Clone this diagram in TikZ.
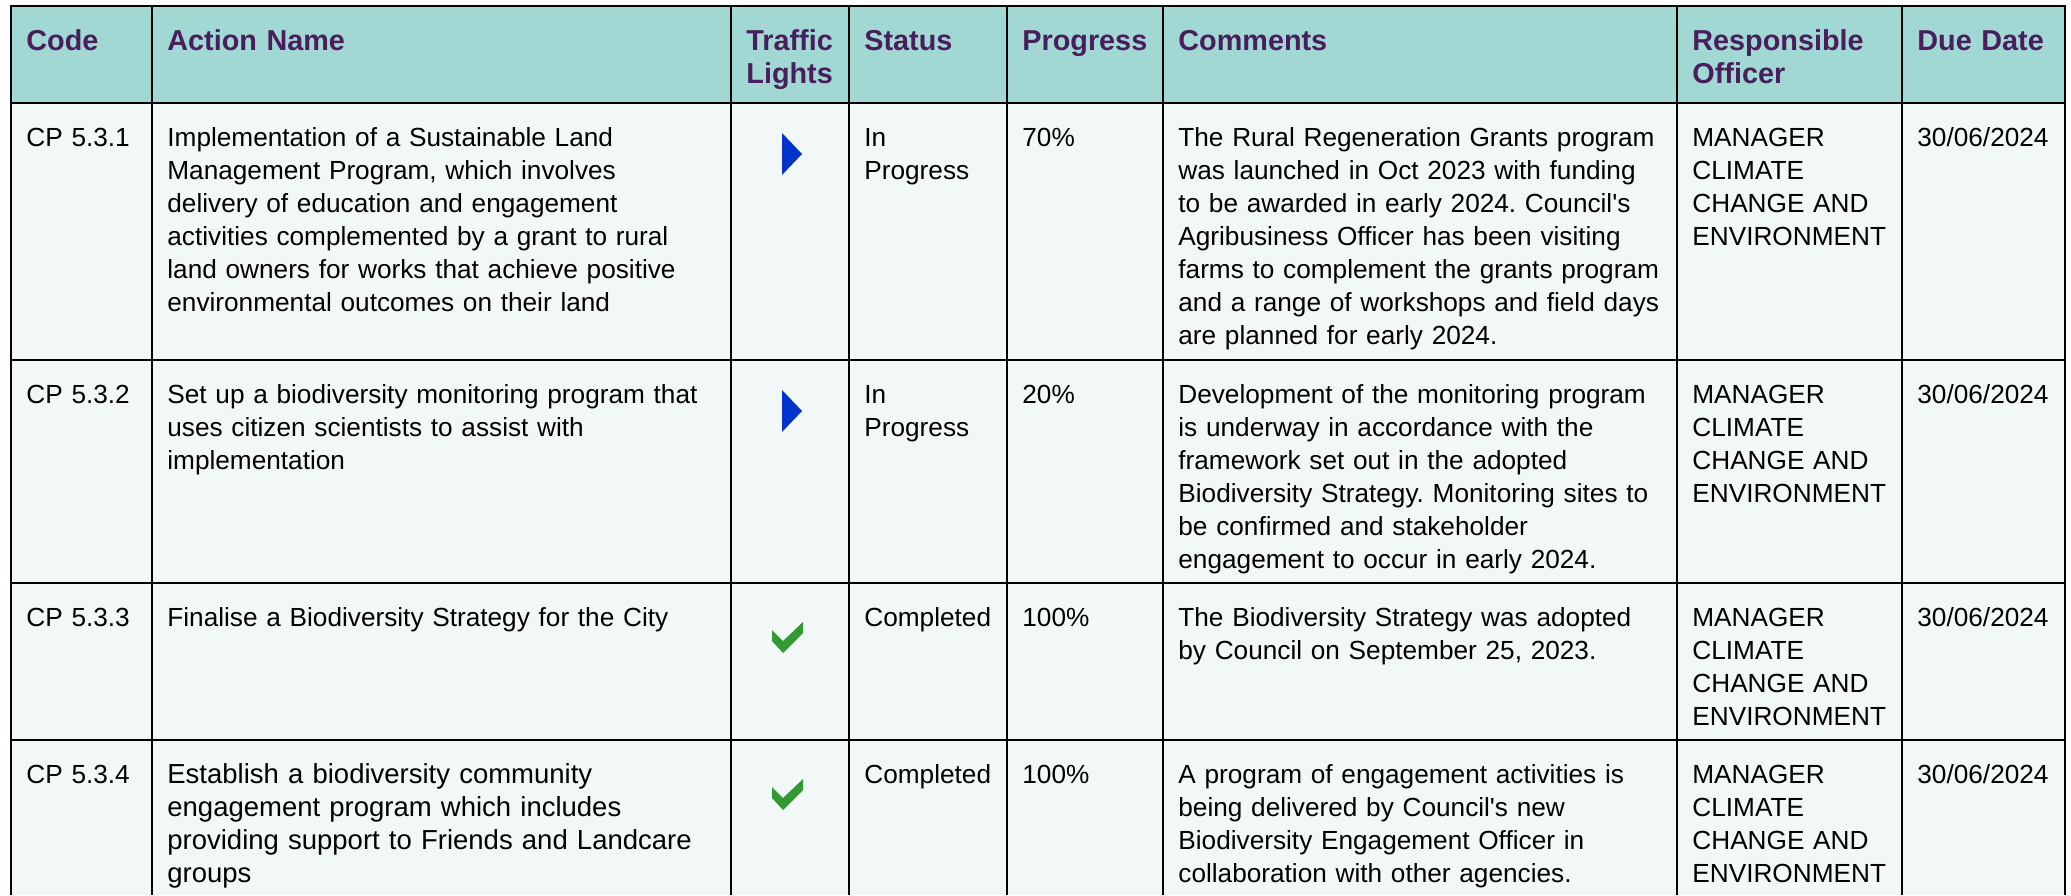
\documentclass[tikz,border=0pt]{standalone}
\usepackage{fontspec}
\setmainfont{Liberation Sans}[Ligatures=TeXOff]
\definecolor{headfill}{RGB}{161,216,212}
\definecolor{headtext}{RGB}{72,30,92}
\definecolor{bodyfill}{RGB}{242,248,248}
\definecolor{arrowblue}{RGB}{0,51,204}
\definecolor{tickgreen}{RGB}{51,153,51}
\frenchspacing

\begin{document}
\begin{tikzpicture}[x=0.5pt,y=-0.5pt,
  rule/.style={line width=0.9pt},
  headcell/.style={anchor=base west,inner sep=0pt,align=left,text width=250pt,
    font=\fontsize{14.4}{16.5}\selectfont\bfseries,text=headtext},
  bodycell/.style={anchor=base west,inner sep=0pt,align=left,text width=300pt,
    font=\fontsize{13.1}{16.5}\selectfont}]
  \useasboundingbox (0,0) rectangle (2071,895);
  \fill[headfill] (11,6) rectangle (2065,103);
  \fill[bodyfill] (11,103) rectangle (2065,895);
  \draw[rule] (11,895) -- (11,6) -- (2065,6) -- (2065,895);
  \draw[rule] (11,103) -- (2065,103);
  \draw[rule] (11,360) -- (2065,360);
  \draw[rule] (11,583) -- (2065,583);
  \draw[rule] (11,740) -- (2065,740);
  \draw[rule] (152,6) -- (152,895);
  \draw[rule] (731,6) -- (731,895);
  \draw[rule] (849,6) -- (849,895);
  \draw[rule] (1007,6) -- (1007,895);
  \draw[rule] (1163,6) -- (1163,895);
  \draw[rule] (1677,6) -- (1677,895);
  \draw[rule] (1902,6) -- (1902,895);

  \node[headcell] (h-code) at (26,50) {Code};
  \node[headcell] (h-action) at (167,50) {Action Name};
  \node[headcell] (h-lights) at (746,50) {Traffic\\Lights};
  \node[headcell] (h-status) at (864,50) {Status};
  \node[headcell] (h-progress) at (1022,50) {Progress};
  \node[headcell] (h-comments) at (1178,50) {Comments};
  \node[headcell] (h-officer) at (1692,50) {Responsible\\Officer};
  \node[headcell] (h-due) at (1917,50) {Due Date};

  \node[bodycell] (r1-code) at (26,146) {CP 5.3.1};
  \node[bodycell] (r1-action) at (167,146) {Implementation of a Sustainable Land\\Management Program, which involves\\delivery of education and engagement\\activities complemented by a grant to rural\\land owners for works that achieve positive\\environmental outcomes on their land};
  \fill[arrowblue] (782,133) -- (802,154) -- (782,175) -- cycle;
  \node[bodycell] (r1-status) at (864,146) {In\\Progress};
  \node[bodycell] (r1-progress) at (1022,146) {70\%};
  \node[bodycell] (r1-comments) at (1178,146) {The Rural Regeneration Grants program\\was launched in Oct 2023 with funding\\to be awarded in early 2024. Council's\\Agribusiness Officer has been visiting\\farms to complement the grants program\\and a range of workshops and field days\\are planned for early 2024.};
  \node[bodycell] (r1-officer) at (1692,146) {MANAGER\\CLIMATE\\CHANGE AND\\ENVIRONMENT};
  \node[bodycell] (r1-due) at (1917,146) {30/06/2024};

  \node[bodycell] (r2-code) at (26,403) {CP 5.3.2};
  \node[bodycell] (r2-action) at (167,403) {Set up a biodiversity monitoring program that\\uses citizen scientists to assist with\\implementation};
  \fill[arrowblue] (782,390) -- (802,411) -- (782,432) -- cycle;
  \node[bodycell] (r2-status) at (864,403) {In\\Progress};
  \node[bodycell] (r2-progress) at (1022,403) {20\%};
  \node[bodycell] (r2-comments) at (1178,403) {Development of the monitoring program\\is underway in accordance with the\\framework set out in the adopted\\Biodiversity Strategy. Monitoring sites to\\be confirmed and stakeholder\\engagement to occur in early 2024.};
  \node[bodycell] (r2-officer) at (1692,403) {MANAGER\\CLIMATE\\CHANGE AND\\ENVIRONMENT};
  \node[bodycell] (r2-due) at (1917,403) {30/06/2024};

  \node[bodycell] (r3-code) at (26,626) {CP 5.3.3};
  \node[bodycell] (r3-action) at (167,626) {Finalise a Biodiversity Strategy for the City};
  \fill[tickgreen] (772,630) -- (772,641) -- (783,653) -- (803,633) -- (803,622) -- (783,641) -- cycle;
  \node[bodycell] (r3-status) at (864,626) {Completed};
  \node[bodycell] (r3-progress) at (1022,626) {100\%};
  \node[bodycell] (r3-comments) at (1178,626) {The Biodiversity Strategy was adopted\\by Council on September 25, 2023.};
  \node[bodycell] (r3-officer) at (1692,626) {MANAGER\\CLIMATE\\CHANGE AND\\ENVIRONMENT};
  \node[bodycell] (r3-due) at (1917,626) {30/06/2024};

  \node[bodycell] (r4-code) at (26,783) {CP 5.3.4};
  \node[bodycell,font=\fontsize{13.75}{16.5}\selectfont] (r4-action) at (167,783) {Establish a biodiversity community\\engagement program which includes\\providing support to Friends and Landcare\\groups};
  \fill[tickgreen] (772,787) -- (772,798) -- (783,810) -- (803,790) -- (803,779) -- (783,798) -- cycle;
  \node[bodycell] (r4-status) at (864,783) {Completed};
  \node[bodycell] (r4-progress) at (1022,783) {100\%};
  \node[bodycell] (r4-comments) at (1178,783) {A program of engagement activities is\\being delivered by Council's new\\Biodiversity Engagement Officer in\\collaboration with other agencies.};
  \node[bodycell] (r4-officer) at (1692,783) {MANAGER\\CLIMATE\\CHANGE AND\\ENVIRONMENT};
  \node[bodycell] (r4-due) at (1917,783) {30/06/2024};
\end{tikzpicture}
\end{document}
